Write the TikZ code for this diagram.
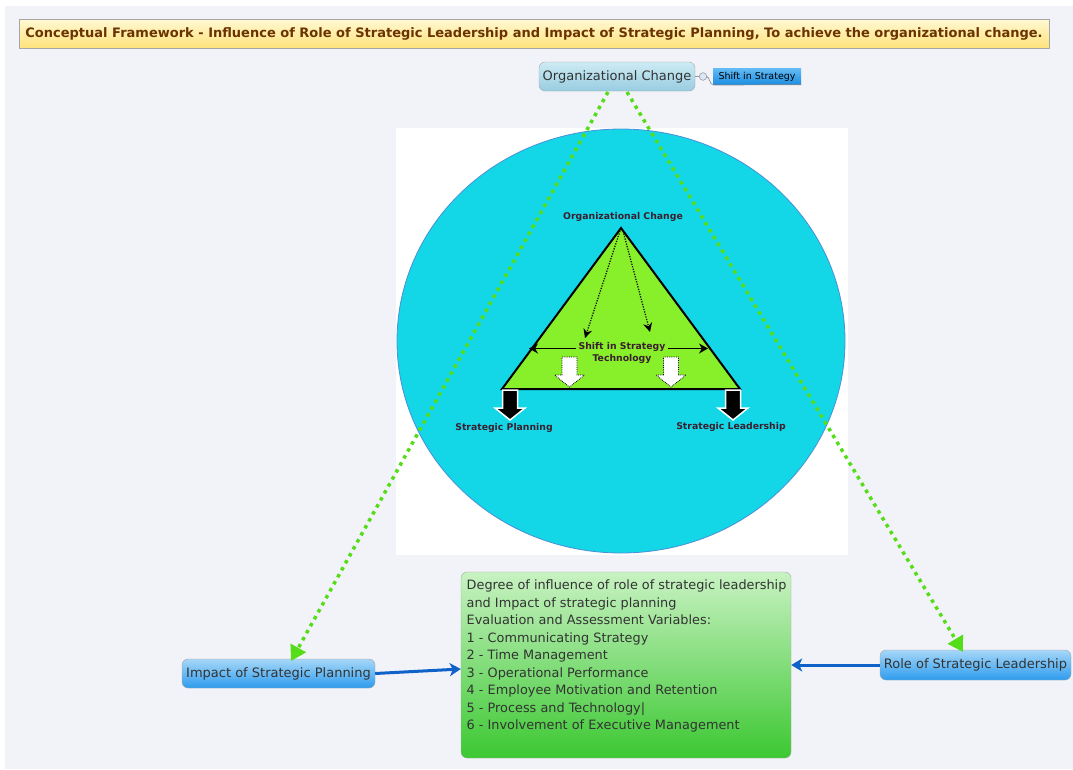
\documentclass[tikz,border=0pt]{standalone}
\usepackage{fontspec}
\setmainfont{DejaVu Sans}
\usetikzlibrary{arrows.meta,shapes.geometric}
\definecolor{bgc}{HTML}{F2F3F8}
\definecolor{titlefg}{HTML}{6B3300}
\definecolor{titletop}{HTML}{FFF8D2}
\definecolor{titlebot}{HTML}{FFE27A}
\definecolor{txt}{HTML}{333333}
\definecolor{cyanfill}{HTML}{13D6E6}
\definecolor{cyanedge}{HTML}{4A90D8}
\definecolor{lime}{HTML}{88F02A}
\definecolor{dotgreen}{HTML}{55DD18}
\definecolor{linkblue}{HTML}{0F62C8}
\definecolor{trilabel}{HTML}{3B1E2E}
\definecolor{bluetop}{HTML}{A6D7F8}
\definecolor{bluebot}{HTML}{2E9CEE}
\definecolor{orgtop}{HTML}{CDEBF5}
\definecolor{orgbot}{HTML}{98CDE0}
\definecolor{shifttop}{HTML}{63BAF4}
\definecolor{shiftbot}{HTML}{1C8EE2}
\definecolor{knob}{HTML}{DCE6F6}
\definecolor{greentop}{HTML}{C8F2C2}
\definecolor{greenbot}{HTML}{3CC832}
\tikzset{
  topicbox/.style={draw=black!35, rounded corners=6pt, text=txt, inner sep=0pt, font=\fontsize{13}{15}\selectfont},
  bluebox/.style={topicbox, top color=bluetop, bottom color=bluebot},
  greenlink/.style={dotgreen, line width=3.5pt, dash pattern=on 3.5pt off 4.5pt, -{Triangle[length=15pt,width=17pt]}},
  bluelink/.style={linkblue, line width=3pt, -{Stealth[length=11pt,width=13pt,inset=3pt]}},
  trilbl/.style={text=trilabel, font=\fontsize{9.3}{11}\selectfont\bfseries, inner sep=0pt},
  innerdots/.style={black, line width=1.2pt, dash pattern=on 1.2pt off 1.4pt, -{Stealth[length=9pt,width=9pt]}},
  blockdown/.pic={\path[pic actions] (-7.5,0) -- (7.5,0) -- (7.5,18) -- (15,18) -- (0,30) -- (-15,18) -- (-7.5,18) -- cycle;}
}
\begin{document}
\begin{tikzpicture}[x=1pt,y=-1pt]
\useasboundingbox (0,0) rectangle (1073,769);
% canvas
\fill[white] (0,0) rectangle (1073,769);
\fill[bgc] (5,6) rectangle (1073,769);

% title banner
\node[draw=black!35, top color=titletop, bottom color=titlebot, minimum width=1030pt, minimum height=29pt, inner sep=0pt,
      text=titlefg, font=\fontsize{13}{15}\selectfont\bfseries] (title) at (534,34)
  {Conceptual Framework - Influence of Role of Strategic Leadership and Impact of Strategic Planning, To achieve the organizational change.};

% picture panel with circle and triangle
\fill[white] (396,128) rectangle (848,555);
\fill[cyanfill, draw=cyanedge, line width=0.8pt] (621,341) ellipse [x radius=224, y radius=212];

\coordinate (apex) at (621,228);
\coordinate (bl) at (502,389);
\coordinate (br) at (740,389);
\fill[lime, draw=black, line width=2pt, line join=miter] (apex) -- (br) -- (bl) -- cycle;

\node[trilbl] (tOC) at (623,216.5) {Organizational Change};
\node[trilbl] (tSP) at (504,428) {Strategic Planning};
\node[trilbl] (tSL) at (731,427) {Strategic Leadership};
\node[trilbl, align=center, font=\fontsize{9.3}{11.5}\selectfont\bfseries] (tSS) at (622,353) {Shift in Strategy\\Technology};

\draw[innerdots] (620,231) -- (585,338);
\draw[innerdots] (623,231) -- (650,332);
\draw[black, line width=1.1pt, -{Stealth[length=9pt,width=10pt]}] (tSS.west |- 0,348.5) ++(-2,0) -- (529,348.5);
\draw[black, line width=1.1pt, -{Stealth[length=9pt,width=10pt]}] (tSS.east |- 0,348.5) ++(2,0) -- (708,348.5);

\pic[fill=white, draw=black, line width=0.8pt, dash pattern=on 0.8pt off 1pt] at (569.5,357) {blockdown};
\pic[fill=white, draw=black, line width=0.8pt, dash pattern=on 0.8pt off 1pt] at (671,357) {blockdown};
\pic[fill=black, draw=white, line width=1.5pt] at (510,390) {blockdown};
\pic[fill=black, draw=white, line width=1.5pt] at (733,390) {blockdown};

% mind map topics
\node[topicbox, top color=orgtop, bottom color=orgbot, minimum width=156pt, minimum height=29pt] (orgc) at (617,76.5) {Organizational Change};
\node[draw=none, top color=shifttop, bottom color=shiftbot, minimum width=88pt, minimum height=16pt, inner sep=0pt,
      font=\fontsize{9.5}{11}\selectfont, text=black] (shift) at (757,76.5) {Shift in Strategy};
\draw[black!40, line width=0.6pt] (orgc.east) -- (699,76.5);
\draw[black!40, fill=knob, line width=0.6pt] (703,76.5) circle (3.8);
\draw[black!45, line width=0.7pt] (706.8,76.5) .. controls (710,77) and (709,85) .. (714,85) -- (shift.south east);

\node[bluebox, minimum width=193pt, minimum height=29pt] (impact) at (278.5,673.5) {Impact of Strategic Planning};
\node[bluebox, minimum width=191pt, minimum height=30pt] (role) at (975.5,665) {Role of Strategic Leadership};

\node[draw=black!35, rounded corners=6pt, top color=greentop, bottom color=greenbot, minimum width=330pt, minimum height=186pt,
      inner sep=0pt] (vars) at (626,665) {};
\node[anchor=north west, align=left, text=txt, inner sep=0pt, font=\fontsize{12.85}{17.5}\selectfont] (varstext) at (466.5,580)
  {Degree of influence of role of strategic leadership\\
   and Impact of strategic planning\\
   Evaluation and Assessment Variables:\\
   1 - Communicating Strategy\\
   2 - Time Management\\
   3 - Operational Performance\\
   4 - Employee Motivation and Retention\\
   5 - Process and Technology|\\
   6 - Involvement of Executive Management};

% connectors
\draw[greenlink] (608,92) -- (291,661);
\draw[greenlink] (627,92) -- (963,652);
\draw[bluelink] (impact.east) -- (vars.west |- 0,669);
\draw[bluelink] (role.west) -- (vars.east |- role.west);
\end{tikzpicture}
\end{document}
